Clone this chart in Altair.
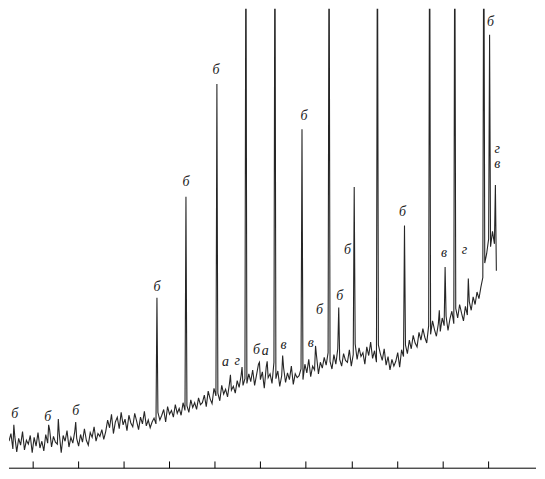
import altair as alt
import pandas as pd

# Baseline trace (scan index 0..504 step 2, signal in arbitrary units)
base_x = list(range(0, 505, 2))
base_y = [
    30, 38, 22, 35, 19, 33, 26, 40, 21, 31, 27, 36, 18, 34, 25, 39, 23, 30, 20, 37, 28, 42, 24, 35, 29,
    27, 38, 18, 36, 30, 41, 24, 34, 28, 40, 33, 25, 37, 29, 43, 31, 26, 39, 34, 45, 30, 38, 35, 42, 32,
    40, 52, 44, 58, 38, 50, 55, 43, 60, 47, 53, 41, 57, 49, 45, 59, 51, 42, 55, 48, 61, 46, 52, 44, 50,
    54, 48, 60, 52, 57, 63, 50, 66, 58, 62, 55, 68, 59, 64, 57, 70, 62, 67, 60, 73, 65, 70, 63, 75, 68,
    70, 78, 66, 82, 74, 69, 85, 77, 80, 72, 88, 79, 84, 76, 90, 83, 87, 80, 93, 86, 98, 88, 95, 90, 100,
    92, 104, 88, 99, 110, 94, 102, 85, 107, 96, 100, 90, 112, 95, 103, 87, 98, 106, 91, 101, 94, 108, 89, 100, 96,
    98, 105, 94, 110, 101, 115, 97, 108, 104, 119, 100, 112, 106, 117, 109, 122, 113, 105, 120, 110, 126, 115, 108, 121, 114,
    112, 125, 108, 120, 131, 115, 127, 118, 122, 110, 128, 119, 133, 116, 124, 112, 130, 121, 114, 126, 109, 118, 104, 115, 108,
    113, 122, 107, 125, 118, 130, 121, 135, 126, 140, 132, 128, 143, 135, 147, 138, 132, 150, 141, 155, 146, 139, 152, 144, 158,
    150, 160, 145, 157, 165, 152, 168, 158, 172, 163, 155, 170, 161, 175, 166, 180, 172, 185, 178, 190, 200, 215, 225, 240, 232,
    248, 235, 207,
]

# Peaks (scan index, apex height); >479 runs off the top
peak_x = [5, 41, 51, 69, 153, 183, 215, 229, 241, 245, 259, 267, 275, 283, 303, 317, 331,
          341, 357, 381, 409, 435, 445, 451, 461, 475, 491, 497, 503]
peak_y = [47, 47, 53, 50, 179, 284, 401, 99, 107, 600, 112, 113, 600, 119, 354, 129, 600,
          169, 294, 600, 254, 600, 166, 211, 600, 199, 600, 452, 296]

# Peak labels
lab_text = ["б", "б", "б", "б", "б", "б", "а", "г", "б", "а", "в", "б", "в", "б", "б", "б",
            "б", "в", "г", "б", "г", "в"]
lab_x = [6, 40, 69, 153, 183, 214, 224, 236, 256, 265, 284, 305, 312, 321, 342, 350,
         407, 450, 471, 498, 505, 505]
lab_y = [58, 55, 61, 190, 299, 416, 112, 113, 125, 124, 130, 368, 132, 166, 181, 229,
         268, 225, 229, 465, 333, 318]

tick_x = [25, 72, 119, 166, 213, 260, 307, 355, 402, 449, 496]

trace = pd.DataFrame({"x": base_x + peak_x, "y": base_y + peak_y}).sort_values("x")
labels = pd.DataFrame({"x": lab_x, "y": lab_y, "t": lab_text})
ticks = pd.DataFrame({"x": tick_x, "y0": [2] * len(tick_x), "y1": [9] * len(tick_x)})
axis_df = pd.DataFrame({"x": [0], "x2": [545], "y": [2]})

xs = alt.Scale(domain=[0, 545], nice=False, zero=False)
ys = alt.Scale(domain=[0, 479], nice=False, zero=False)

line = alt.Chart(trace).mark_line(color="#262626", strokeWidth=1.1, clip=True).encode(
    x=alt.X("x:Q", scale=xs, axis=None),
    y=alt.Y("y:Q", scale=ys, axis=None),
)

text = alt.Chart(labels).mark_text(
    font="Liberation Serif", fontStyle="italic", fontSize=14, color="#222222",
    align="center", baseline="middle",
).encode(x=alt.X("x:Q", scale=xs), y=alt.Y("y:Q", scale=ys), text="t:N")

axis_line = alt.Chart(axis_df).mark_rule(color="#000000", strokeWidth=1).encode(
    x=alt.X("x:Q", scale=xs), x2="x2:Q", y=alt.Y("y:Q", scale=ys)
)

tick_marks = alt.Chart(ticks).mark_rule(color="#000000", strokeWidth=1).encode(
    x=alt.X("x:Q", scale=xs), y=alt.Y("y0:Q", scale=ys), y2="y1:Q"
)

chart = (line + text + axis_line + tick_marks).properties(
    width=529, height=463, padding=0, background="white"
).configure_view(stroke=None)

chart.save("out.html", embed_options={"renderer": "svg", "actions": False})
